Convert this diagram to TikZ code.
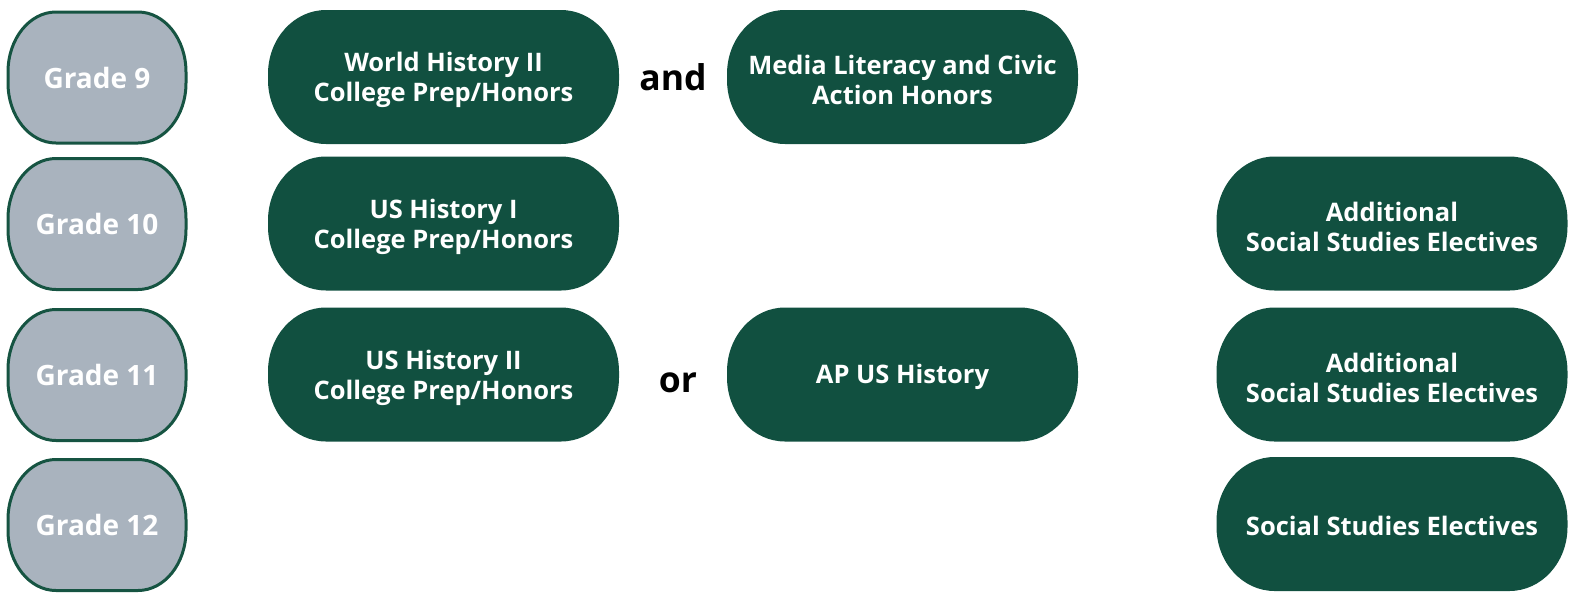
\documentclass[tikz,border=0pt]{standalone}
\usepackage{fontspec}
\setmainfont{Open Sans}
\definecolor{dgreen}{RGB}{17,80,64}
\definecolor{gradegrey}{RGB}{169,179,190}
\definecolor{gradeedge}{RGB}{22,84,66}
\newcommand\pillpath[4]{% node, rx, ry, style
  \path[#4] ([xshift=#2]#1.north west) -- ([xshift=-#2]#1.north east)
    arc[start angle=90,end angle=0,x radius=#2,y radius=#3]
    -- ([yshift=#3]#1.south east)
    arc[start angle=0,end angle=-90,x radius=#2,y radius=#3]
    -- ([xshift=#2]#1.south west)
    arc[start angle=270,end angle=180,x radius=#2,y radius=#3]
    -- ([yshift=-#3]#1.north west)
    arc[start angle=180,end angle=90,x radius=#2,y radius=#3] -- cycle;}
\tikzset{
  gradebox/.style={rectangle,inner sep=0pt,outer sep=0pt,minimum width=178pt,minimum height=131pt,
    text=white,font=\fontsize{28}{30}\selectfont\bfseries,align=center},
  coursebox/.style={rectangle,inner sep=0pt,outer sep=0pt,minimum width=351pt,minimum height=134pt,
    text=white,font=\fontsize{25.5}{30}\selectfont\bfseries,align=center},
  coursetext/.style={coursebox,minimum height=0pt,yshift=-3pt},
  joinword/.style={inner sep=0pt,text=black,font=\fontsize{35.5}{40}\selectfont\bfseries},
}
\begin{document}
\begin{tikzpicture}[x=1pt,y=1pt]
\useasboundingbox (0,0) rectangle (1583,-598);
% grade nodes
\node[gradebox] (g9)  at (97,-77.5) {};
\node[gradebox] (g10) at (97,-224) {};
\node[gradebox] (g11) at (97,-375) {};
\node[gradebox] (g12) at (97,-525) {};
\foreach \n in {g9,g10,g11,g12}{\pillpath{\n}{48pt}{60pt}{fill=gradegrey,draw=gradeedge,line width=3pt}}
\node[gradebox] at (g9)  {Grade 9};
\node[gradebox] at (g10) {Grade 10};
\node[gradebox] at (g11) {Grade 11};
\node[gradebox] at (g12) {Grade 12};
% course nodes
\node[coursebox] (wh)  at (443.5,-77)  {};
\node[coursebox] (ml)  at (902.5,-77)  {};
\node[coursebox] (us1) at (443.5,-223.5) {};
\node[coursebox] (us2) at (443.5,-374.5) {};
\node[coursebox] (ap)  at (902.5,-374.5) {};
\node[coursebox] (ad1) at (1392,-223.5) {};
\node[coursebox] (ad2) at (1392,-374.5) {};
\node[coursebox] (sse) at (1392,-524) {};
\foreach \n in {wh,ml,us1,us2,ap,ad1,ad2,sse}{\pillpath{\n}{58pt}{64pt}{fill=dgreen}}
\node[coursetext] at (wh)  {World History II\\College Prep/Honors};
\node[coursetext] at (ml)  {Media Literacy and Civic\\Action Honors};
\node[coursetext] at (us1) {US History I\\College Prep/Honors};
\node[coursetext] at (us2) {US History II\\College Prep/Honors};
\node[coursetext,yshift=1pt] at (ap)  {AP US History};
\node[coursetext] at (ad1) {Additional\\Social Studies Electives};
\node[coursetext] at (ad2) {Additional\\Social Studies Electives};
\node[coursetext,yshift=1pt] at (sse) {Social Studies Electives};
% joining words
\node[joinword] (and) at (673,-77) {and};
\node[joinword] (or)  at (678,-383) {or};
\end{tikzpicture}
\end{document}
